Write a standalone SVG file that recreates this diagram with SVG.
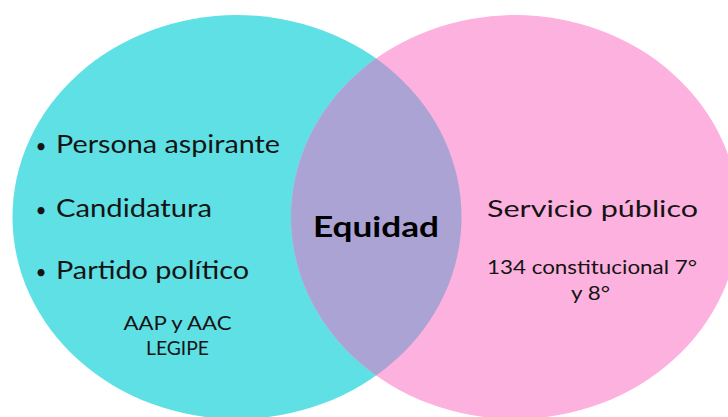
<svg xmlns="http://www.w3.org/2000/svg" width="728" height="417" viewBox="0 0 728 417">
<style>
.t{font-family:Lato,"Open Sans","Liberation Sans",sans-serif;fill:#141414}
.big{font-size:25px}
.mid{font-size:24px}
.sm{font-size:19px}
.dot{font-size:19px}
.b{font-weight:bold;font-size:29px;fill:#000}
</style>
<defs>
<clipPath id="pinkClip"><ellipse cx="515" cy="217" rx="224" ry="202"/></clipPath>
</defs>
<rect width="728" height="417" fill="#ffffff"/>
<g id="left-set">
<ellipse cx="237" cy="217" rx="224.5" ry="202" fill="#5FE0E4"/>
</g>
<g id="right-set">
<ellipse cx="515" cy="217" rx="224" ry="202" fill="#FDB1DE"/>
</g>
<g id="intersection">
<ellipse cx="237" cy="217" rx="224.5" ry="202" fill="#ABA3D3" clip-path="url(#pinkClip)"/>
</g>
<g id="connectors"></g>
<g id="left-labels">
<text class="t big" y="153"><tspan class="dot" x="41" text-anchor="middle">•</tspan><tspan x="56" textLength="224" lengthAdjust="spacingAndGlyphs">Persona aspirante</tspan></text>
<text class="t big" y="217"><tspan class="dot" x="41" text-anchor="middle">•</tspan><tspan x="56" textLength="156" lengthAdjust="spacingAndGlyphs">Candidatura</tspan></text>
<text class="t big" y="279"><tspan class="dot" x="41" text-anchor="middle">•</tspan><tspan x="56" textLength="193" lengthAdjust="spacingAndGlyphs">Partido político</tspan></text>
<text class="t sm" x="177.5" y="329.5" text-anchor="middle" textLength="108" lengthAdjust="spacingAndGlyphs">AAP y AAC</text>
<text class="t sm" x="177.5" y="355" text-anchor="middle" textLength="63" lengthAdjust="spacingAndGlyphs">LEGIPE</text>
</g>
<g id="center-label">
<text class="t b" x="376" y="237" text-anchor="middle" textLength="126" lengthAdjust="spacingAndGlyphs">Equidad</text>
</g>
<g id="right-labels">
<text class="t mid" x="592.5" y="217" text-anchor="middle" textLength="211" lengthAdjust="spacingAndGlyphs">Servicio público</text>
<text class="t sm" x="592" y="273.5" text-anchor="middle" textLength="210" lengthAdjust="spacingAndGlyphs">134 constitucional 7°</text>
<text class="t sm" x="590.5" y="300" text-anchor="middle" textLength="39" lengthAdjust="spacingAndGlyphs">y 8°</text>
</g>
</svg>
